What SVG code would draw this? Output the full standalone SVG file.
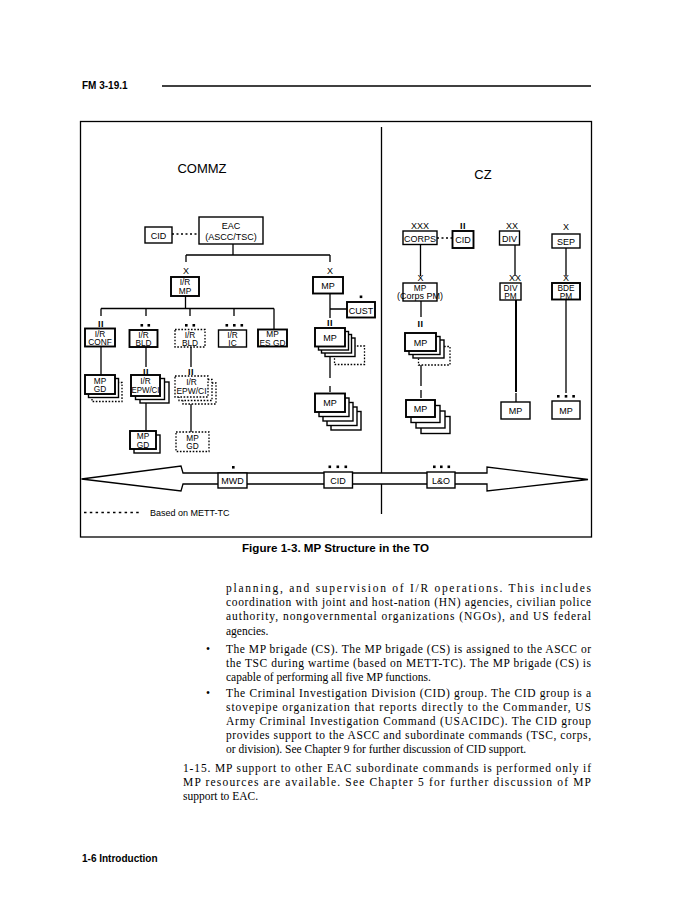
<svg xmlns="http://www.w3.org/2000/svg" width="693" height="897" viewBox="0 0 693 897">
<style>
.bx{fill:#fff;stroke:#000;stroke-width:1.4}
.bb{fill:#fff;stroke:#000;stroke-width:1.9}
.db{fill:#fff;stroke:#000;stroke-width:1.3;stroke-dasharray:1.6 1.6}
.ln{stroke:#000;stroke-width:1.3;fill:none}
.dl{stroke:#000;stroke-width:1.3;fill:none;stroke-dasharray:2 2.5}
.t{font-family:"Liberation Sans",Arial,sans-serif;font-size:9px;text-anchor:middle;fill:#000}
.t2{font-family:"Liberation Sans",Arial,sans-serif;font-size:8.3px;text-anchor:middle;fill:#000}
.s{font-family:"Liberation Sans",Arial,sans-serif;font-size:9px;text-anchor:middle;fill:#000}
.ii{font-family:"Liberation Sans",Arial,sans-serif;font-size:9px;font-weight:bold;text-anchor:middle;fill:#000;letter-spacing:0.6px}
.sq{fill:#000}
.h{font-family:"Liberation Sans",Arial,sans-serif;font-weight:bold;font-size:10px;fill:#000}
.b{font-family:"Liberation Serif","Times New Roman",serif;font-size:11.5px;fill:#000}
</style>

<!-- page header / footer -->
<text class="h" x="82" y="89">FM 3-19.1</text>
<line x1="162" y1="86" x2="591" y2="86" stroke="#000" stroke-width="1.5"/>
<text class="h" x="82" y="862">1-6  Introduction</text>

<!-- frame -->
<rect x="80.5" y="121.5" width="511" height="415.5" fill="none" stroke="#000" stroke-width="1.3"/>
<text x="202" y="173" font-family="Liberation Sans,Arial,sans-serif" font-size="13" text-anchor="middle">COMMZ</text>
<text x="483" y="179" font-family="Liberation Sans,Arial,sans-serif" font-size="13" text-anchor="middle">CZ</text>

<g id="connectors">
  <line class="ln" x1="381.5" y1="127" x2="381.5" y2="514"/>
  <line class="dl" x1="172" y1="234" x2="199" y2="234"/>
  <path class="ln" d="M233,244 V255 M186,255 H330 M186,255 V262 M330,255 V262"/>
  <path class="ln" d="M185.5,296 V308.5 M101,308.5 H274 M101,308.5 V316 M146,308.5 V316 M190,308.5 V316 M234,308.5 V316 M274,308.5 V329.5"/>
  <path class="ln" d="M330,293.5 V318 M330,309 H347"/>
  <path class="ln" d="M101,346.5 V375"/>
  <path class="ln" d="M146,347 V367 M146,403 V431"/>
  <path class="ln" d="M191,347 V367 M191,404 V432"/>
  <path class="ln" d="M330,357 V378 M330,386 V392"/>
  <line class="dl" x1="437" y1="238" x2="452.5" y2="238"/>
  <path class="ln" d="M420.5,244.5 V276 M515,245 V276 M566,248 V276"/>
  <path class="ln" d="M421,301 V317 M421,358 V386 M421,390 V398"/>
  <path d="M516,300 V392" stroke="#000" stroke-width="2" fill="none"/>
  <path class="ln" d="M516,393 V402 M566,299 V393"/>
  <line x1="84" y1="512.5" x2="142" y2="512.5" stroke="#000" stroke-width="1.3" stroke-dasharray="2.5 3.3"/>
</g>

<!-- COMMZ tree -->
<g id="cid-commz"><rect class="bx" x="145" y="227" width="27" height="16"/><text class="t" x="158.5" y="238.5">CID</text></g>
<g id="eac"><rect class="bx" x="199" y="217" width="64" height="27"/><text class="t" x="231" y="228.5">EAC</text><text class="t" x="231" y="239.5">(ASCC/TSC)</text></g>

<g id="ir-mp-bde"><text class="s" x="186" y="274">X</text><rect class="bb" x="171" y="277" width="28" height="19"/><text class="t2" x="185" y="285">I/R</text><text class="t2" x="185" y="293.5">MP</text></g>
<g id="mp-bde"><text class="s" x="330" y="274">X</text><rect class="bb" x="313" y="277" width="30" height="16.5"/><text class="t" x="328" y="288.5">MP</text></g>
<g id="cust"><rect class="sq" x="359.7" y="295.5" width="2.6" height="2.6"/><rect class="bb" x="347" y="302" width="28" height="15.5"/><text class="t" x="361" y="313.5">CUST</text></g>

<g id="ir-conf"><text class="ii" x="101" y="327">II</text><rect class="bb" x="85" y="328.5" width="30" height="18"/><text class="t2" x="100" y="336.5">I/R</text><text class="t2" x="100" y="345">CONF</text></g>
<g id="ir-bld"><rect class="sq" x="140.5" y="324" width="2.6" height="2.6"/><rect class="sq" x="147.5" y="324" width="2.6" height="2.6"/><rect class="bb" x="129.5" y="330" width="28" height="17"/><text class="t2" x="143.5" y="337.5">I/R</text><text class="t2" x="143.5" y="346">BLD</text></g>
<g id="ir-bld-opt"><rect class="sq" x="185" y="324" width="2.6" height="2.6"/><rect class="sq" x="192.5" y="324" width="2.6" height="2.6"/><rect class="db" x="175" y="329.5" width="30" height="17.5"/><text class="t2" x="190" y="337.5">I/R</text><text class="t2" x="190" y="346">BLD</text></g>
<g id="ir-ic"><rect class="sq" x="225.5" y="324" width="2.6" height="2.6"/><rect class="sq" x="233" y="324" width="2.6" height="2.6"/><rect class="sq" x="240.5" y="324" width="2.6" height="2.6"/><rect class="bx" x="218.5" y="330" width="28" height="17"/><text class="t2" x="232.5" y="337.5">I/R</text><text class="t2" x="232.5" y="346">IC</text></g>
<g id="mp-es-gd"><rect class="bb" x="258" y="329.5" width="29" height="17"/><text class="t2" x="272.5" y="337">MP</text><text class="t2" x="272.5" y="345.5">ES GD</text></g>

<g id="mp-gd-1"><rect class="db" x="92" y="382.5" width="30" height="19"/><rect class="bx" x="88.5" y="378.5" width="30" height="19"/><rect class="bb" x="85" y="375" width="30" height="19"/><text class="t2" x="100" y="383.5">MP</text><text class="t2" x="100" y="392">GD</text></g>

<g id="ir-epw"><text class="ii" x="146" y="374.5">II</text><rect class="bx" x="140" y="382" width="29" height="21"/><rect class="bx" x="135.5" y="378.5" width="29" height="21"/><rect class="bb" x="131" y="375" width="29" height="21"/><text class="t2" x="145.5" y="384">I/R</text><text class="t2" x="145.5" y="393" textLength="28" lengthAdjust="spacingAndGlyphs">EPW/CI</text></g>
<g id="mp-gd-2"><rect class="bx" x="134" y="435" width="26" height="18"/><rect class="bb" x="130" y="431" width="26" height="18"/><text class="t2" x="143" y="439">MP</text><text class="t2" x="143" y="447.5">GD</text></g>

<g id="ir-epw-opt"><text class="ii" x="191" y="374.5">II</text><rect class="db" x="183" y="383" width="33" height="21"/><rect class="db" x="179" y="379.5" width="33" height="21"/><rect class="db" x="175" y="376" width="33" height="21"/><text class="t2" x="191.5" y="385">I/R</text><text class="t2" x="191.5" y="394" textLength="30" lengthAdjust="spacingAndGlyphs">EPW/CI</text></g>
<g id="mp-gd-opt"><rect class="db" x="176" y="432" width="33" height="19.5"/><text class="t2" x="192.5" y="440.5">MP</text><text class="t2" x="192.5" y="449">GD</text></g>

<g id="mp-bn-commz"><text class="ii" x="330" y="326">II</text><rect class="db" x="334.5" y="346" width="30" height="18.5"/><rect class="bx" x="325" y="338" width="30" height="18.5"/><rect class="bx" x="321.5" y="334.5" width="30" height="18.5"/><rect class="bx" x="318.5" y="331.5" width="30" height="18.5"/><rect class="bb" x="315" y="328" width="30" height="18.5"/><text class="t" x="330" y="340.5">MP</text></g>
<g id="mp-co-commz"><rect class="bx" x="331" y="411.5" width="30" height="18.5"/><rect class="bx" x="327" y="407" width="30" height="18.5"/><rect class="bx" x="323" y="402.5" width="30" height="18.5"/><rect class="bx" x="319" y="398" width="30" height="18.5"/><rect class="bb" x="315" y="393.5" width="30" height="18.5"/><text class="t" x="330" y="406">MP</text></g>

<!-- CZ tree -->
<g id="corps"><text class="s" x="420" y="229">XXX</text><rect class="bx" x="403" y="231" width="34" height="13.5"/><text class="t" x="420" y="241.5">CORPS</text></g>
<g id="cid-cz"><text class="ii" x="463" y="229">II</text><rect class="bb" x="452.5" y="231" width="21" height="17"/><text class="t" x="463" y="242.5">CID</text></g>
<g id="div"><text class="s" x="512" y="229">XX</text><rect class="bx" x="499.5" y="231" width="20" height="14"/><text class="t" x="509.5" y="241.5">DIV</text></g>
<g id="sep"><text class="s" x="566" y="230">X</text><rect class="bx" x="552" y="234" width="28" height="14"/><text class="t" x="566" y="244.5">SEP</text></g>

<g id="corps-pm"><text class="s" x="420.5" y="281">X</text><rect class="bx" x="403" y="283" width="34" height="18"/><text class="t2" x="420" y="290.5">MP</text><text class="t" x="420" y="299" font-size="6">(Corps PM)</text></g>
<g id="div-pm"><text class="s" x="515" y="281">XX</text><rect class="bx" x="500" y="283" width="21" height="17"/><text class="t2" x="510.5" y="290.5">DIV</text><text class="t2" x="510.5" y="299">PM</text></g>
<g id="bde-pm"><text class="s" x="566" y="281">X</text><rect class="bb" x="552" y="283" width="28" height="16.5"/><text class="t2" x="566" y="290.5">BDE</text><text class="t2" x="566" y="299">PM</text></g>

<g id="mp-bn-cz"><text class="ii" x="420.5" y="326.5">II</text><rect class="db" x="418.5" y="346.5" width="31.5" height="18.5"/><rect class="bx" x="413" y="340" width="31" height="18"/><rect class="bx" x="409" y="336.5" width="31" height="18"/><rect class="bb" x="405" y="333" width="31" height="18"/><text class="t" x="420.5" y="345.5">MP</text></g>
<g id="mp-co-cz"><rect class="bx" x="421" y="416.5" width="29" height="17"/><rect class="bx" x="416" y="411" width="29" height="17"/><rect class="bx" x="411" y="405.5" width="29" height="17"/><rect class="bb" x="406" y="400" width="29" height="17"/><text class="t" x="420.5" y="412">MP</text></g>
<g id="mp-div"><rect class="bx" x="501" y="402" width="29" height="17"/><text class="t" x="515.5" y="414">MP</text></g>
<g id="mp-sep"><rect class="sq" x="557" y="395" width="2.6" height="2.6"/><rect class="sq" x="564.7" y="395" width="2.6" height="2.6"/><rect class="sq" x="572.3" y="395" width="2.6" height="2.6"/><rect class="bx" x="552" y="401" width="28" height="18"/><text class="t" x="566" y="413.5">MP</text></g>

<!-- support arrow -->
<g id="arrow"><polygon points="81.5,479 181,466 183,473 487,473 487,467 588,479.5 487,491 487,484 183,484 181,491" fill="#fff" stroke="#000" stroke-width="1.3" stroke-linejoin="miter"/></g>
<g id="mwd"><rect class="sq" x="232" y="466" width="2.6" height="2.6"/><rect class="bx" x="218" y="473" width="29" height="15"/><text class="t" x="232.5" y="484">MWD</text></g>
<g id="cid-arrow"><rect class="sq" x="328.5" y="465.5" width="2.6" height="2.6"/><rect class="sq" x="336.5" y="465.5" width="2.6" height="2.6"/><rect class="sq" x="344.5" y="465.5" width="2.6" height="2.6"/><rect class="bx" x="324" y="472" width="28.5" height="16"/><text class="t" x="338" y="484">CID</text></g>
<g id="lo"><rect class="sq" x="433" y="465.5" width="2.6" height="2.6"/><rect class="sq" x="440" y="465.5" width="2.6" height="2.6"/><rect class="sq" x="447.5" y="465.5" width="2.6" height="2.6"/><rect class="bx" x="427" y="472" width="28" height="16"/><text class="t" x="441" y="484">L&amp;O</text></g>

<text x="150" y="516" font-family="Liberation Sans,Arial,sans-serif" font-size="9">Based on METT-TC</text>

<text x="335.5" y="552" font-family="Liberation Sans,Arial,sans-serif" font-size="11" font-weight="bold" text-anchor="middle" textLength="187" lengthAdjust="spacingAndGlyphs">Figure 1-3.  MP Structure in the TO</text>

<!-- body text -->
<g id="body">
<text class="b" x="226" y="592" textLength="365" lengthAdjust="spacing">planning, and supervision of I/R operations. This includes</text>
<text class="b" x="226" y="606.2" textLength="365" lengthAdjust="spacing">coordination with joint and host-nation (HN) agencies, civilian police</text>
<text class="b" x="226" y="620.4" textLength="365" lengthAdjust="spacing">authority, nongovernmental organizations (NGOs), and US federal</text>
<text class="b" x="226" y="634.6">agencies.</text>
<text class="b" x="206" y="652.6">•</text>
<text class="b" x="226" y="652.6" textLength="365" lengthAdjust="spacing">The MP brigade (CS). The MP brigade (CS) is assigned to the ASCC or</text>
<text class="b" x="226" y="666.8" textLength="365" lengthAdjust="spacing">the TSC during wartime (based on METT-TC). The MP brigade (CS) is</text>
<text class="b" x="226" y="681">capable of performing all five MP functions.</text>
<text class="b" x="206" y="696.6">•</text>
<text class="b" x="226" y="696.6" textLength="365" lengthAdjust="spacing">The Criminal Investigation Division (CID) group. The CID group is a</text>
<text class="b" x="226" y="710.8" textLength="365" lengthAdjust="spacing">stovepipe organization that reports directly to the Commander, US</text>
<text class="b" x="226" y="725" textLength="365" lengthAdjust="spacing">Army Criminal Investigation Command (USACIDC). The CID group</text>
<text class="b" x="226" y="739.2" textLength="365" lengthAdjust="spacing">provides support to the ASCC and subordinate commands (TSC, corps,</text>
<text class="b" x="226" y="753.4">or division). See Chapter 9 for further discussion of CID support.</text>
<text class="b" x="183" y="771.6" textLength="408" lengthAdjust="spacing">1-15.  MP support to other EAC subordinate commands is performed only if</text>
<text class="b" x="183" y="785.8" textLength="408" lengthAdjust="spacing">MP resources are available. See Chapter 5 for further discussion of MP</text>
<text class="b" x="183" y="800">support to EAC.</text>
</g>
</svg>
